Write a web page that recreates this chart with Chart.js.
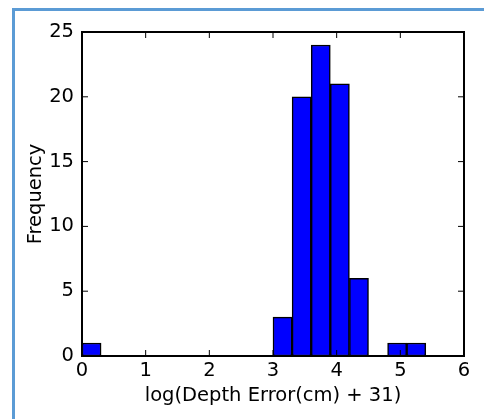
<!DOCTYPE html>
<html>
<head>
<meta charset="utf-8">
<script src="https://cdn.jsdelivr.net/npm/chart.js@4/dist/chart.umd.min.js"></script>
<style>
  html, body { margin: 0; padding: 0; background: #ffffff; overflow: hidden; }
  canvas { display: block; }
</style>
</head>
<body>
<canvas id="c" width="484" height="419"></canvas>
<script>
// Histogram bins (centers of 0.3-wide bins) and counts
const binCenters = [0.15, 0.45, 0.75, 1.05, 1.35, 1.65, 1.95, 2.25, 2.55, 2.85,
                    3.15, 3.45, 3.75, 4.05, 4.35, 4.65, 4.95, 5.25];
const frequencies = [1, 0, 0, 0, 0, 0, 0, 0, 0, 0,
                     3, 20, 24, 21, 6, 0, 1, 1];
const xTickValues = [0, 1, 2, 3, 4, 5, 6];
const yTickValues = [0, 5, 10, 15, 20, 25];
const xTitle = 'log(Depth Error(cm) + 31)';
const yTitle = 'Frequency';

const FONT = 'DejaVu Sans';
const FSIZE = 19.5;

const pageFrame = {
  id: 'pageFrame',
  beforeDraw(chart) {
    const ctx = chart.ctx;
    ctx.save();
    ctx.fillStyle = '#ffffff';
    ctx.fillRect(0, 0, chart.width, chart.height);
    ctx.fillStyle = '#5b9bd5';
    ctx.fillRect(12, 8, chart.width - 12, 3);
    ctx.fillRect(12, 8, 3, chart.height - 8);
    ctx.restore();
  }
};

const frameAndTicks = {
  id: 'frameAndTicks',
  afterDatasetsDraw(chart) {
    const ctx = chart.ctx;
    const a = chart.chartArea;
    const xs = chart.scales.x, ys = chart.scales.y;
    const tl = 6;
    ctx.save();
    ctx.strokeStyle = '#000';
    ctx.lineWidth = 1;
    ctx.beginPath();
    xTickValues.forEach(v => {
      if (v === xs.min || v === xs.max) return;
      const px = xs.getPixelForValue(v);
      ctx.moveTo(px, a.bottom); ctx.lineTo(px, a.bottom - tl);
      ctx.moveTo(px, a.top); ctx.lineTo(px, a.top + tl);
    });
    yTickValues.forEach(v => {
      if (v === ys.min || v === ys.max) return;
      const py = ys.getPixelForValue(v);
      ctx.moveTo(a.left, py); ctx.lineTo(a.left + tl, py);
      ctx.moveTo(a.right, py); ctx.lineTo(a.right - tl, py);
    });
    ctx.stroke();
    ctx.lineWidth = 2;
    ctx.strokeRect(a.left, a.top, a.right - a.left, a.bottom - a.top);
    ctx.restore();
  }
};

new Chart(document.getElementById('c'), {
  type: 'bar',
  data: {
    datasets: [{
      data: binCenters.map((x, i) => ({ x: x, y: frequencies[i] })),
      backgroundColor: '#0000ff',
      borderColor: '#000000',
      borderWidth: 1.5,
      borderSkipped: false,
      barPercentage: 1,
      categoryPercentage: 1
    }]
  },
  options: {
    responsive: false,
    animation: false,
    events: [],
    layout: { padding: { left: 0, top: 32, right: 20, bottom: 0 } },
    plugins: { legend: { display: false }, tooltip: { enabled: false } },
    scales: {
      x: {
        type: 'linear',
        offset: false,
        min: 0, max: 6,
        afterBuildTicks(s) { s.ticks = xTickValues.map(v => ({ value: v })); },
        afterFit(s) { s.height = 63; },
        grid: { display: false, drawTicks: false },
        border: { display: false },
        ticks: { color: '#000', padding: 3, maxRotation: 0, autoSkip: false,
                 font: { family: FONT, size: FSIZE } },
        title: { display: true, text: xTitle, color: '#000',
                 font: { family: FONT, size: FSIZE }, padding: { top: 0, bottom: 11 } }
      },
      y: {
        min: 0, max: 25,
        afterBuildTicks(s) { s.ticks = yTickValues.map(v => ({ value: v })); },
        afterFit(s) { s.width = 82; },
        grid: { display: false, drawTicks: false },
        border: { display: false },
        ticks: { color: '#000', padding: 8, autoSkip: false,
                 font: { family: FONT, size: FSIZE } },
        title: { display: true, text: yTitle, color: '#000',
                 font: { family: FONT, size: FSIZE }, padding: { top: 24, bottom: 0 } }
      }
    }
  },
  plugins: [pageFrame, frameAndTicks]
});
</script>
</body>
</html>
